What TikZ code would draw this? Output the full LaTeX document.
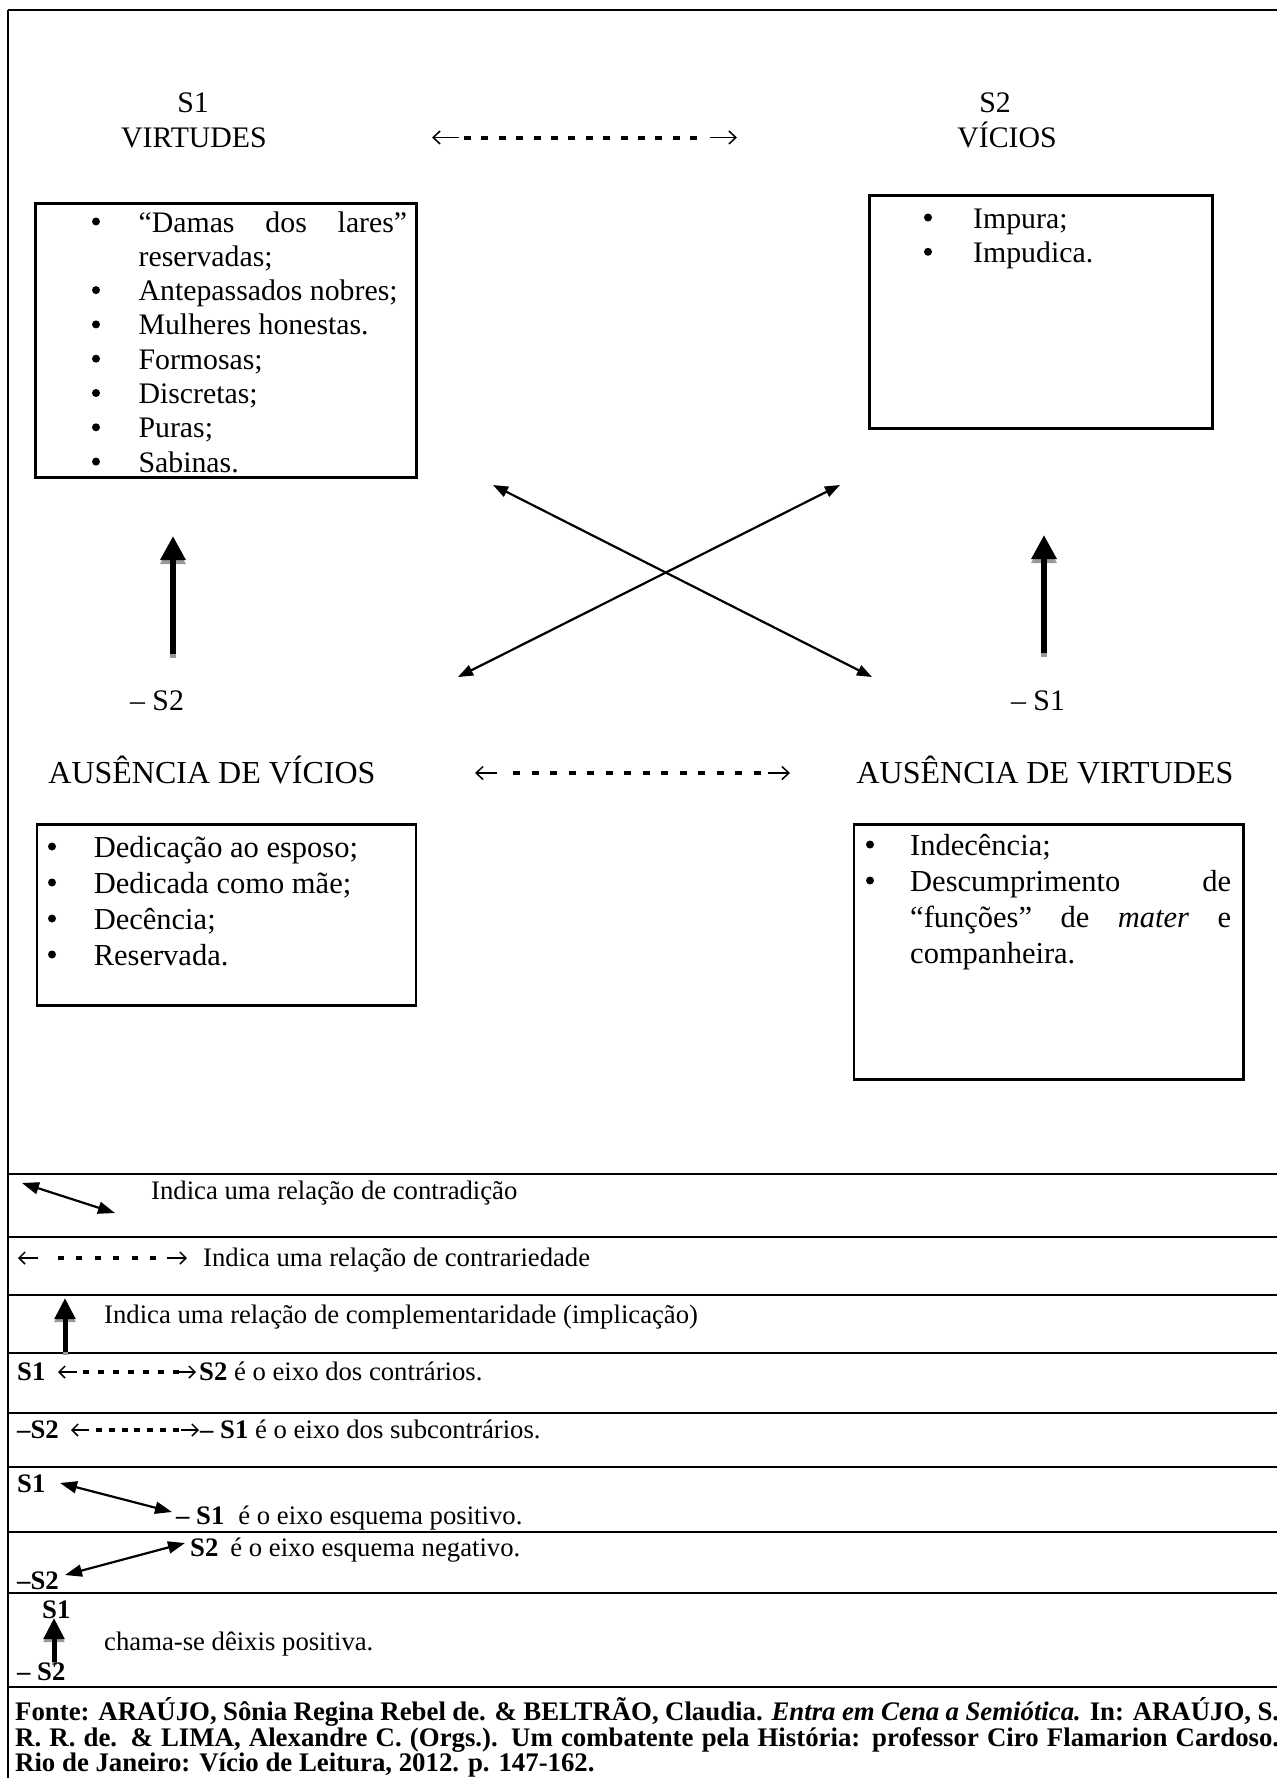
\documentclass[tikz,border=0pt]{standalone}
\usepackage{fontspec}
\setmainfont{Liberation Serif}
\usetikzlibrary{arrows.meta}

% type sizes (1pt of the picture = one unit of the grid)
\newcommand{\fmain}{\fontsize{29.8pt}{34.3pt}\selectfont}
\newcommand{\fbig}{\fontsize{32pt}{36pt}\selectfont}
\newcommand{\flower}{\fontsize{30.5pt}{36pt}\selectfont}
\newcommand{\fleg}{\fontsize{26.7pt}{30pt}\selectfont}
\newcommand{\fsrc}{\fontsize{26.8pt}{28pt}\selectfont}

% barb size of the contrariety arrows
\def\hl{7pt}\def\hw{13pt}
% contrariety arrow: thin barbed ends with a row of heavy dashes between them
% #1 left tip, #2 right tip, #3 stub length, #4 first dash offset,
% #5 number of dashes, #6 dash period, #7 dash length, #8 dash thickness
\newcommand{\contraryarrow}[8]{%
  \draw[barb, {Straight Barb[length=\hl,width=\hw]}-] (#1) -- ([xshift=#3]#1);
  \draw[barb, -{Straight Barb[length=\hl,width=\hw]}] ([xshift=-#3]#2) -- (#2);
  \foreach \i in {1,...,#5}
    \draw[line width=#8] ([xshift=#4+(\i-1)*#6]#1) -- ++(#7,0);
}

\begin{document}
\begin{tikzpicture}[x=1pt,y=-1pt,
  lbl/.style={inner sep=0pt, anchor=base, font=\fmain},
  ln/.style={inner sep=0pt, anchor=base west, font=\fmain},
  lnlow/.style={inner sep=0pt, anchor=base west, font=\flower},
  panel/.style={draw, line width=2.6pt, inner sep=0pt, anchor=north west},
  rowrule/.style={line width=2.8pt},
  barb/.style={line width=1.5pt},
  contra/.style={line width=2.2pt, {Triangle[length=15pt,width=11pt]}-{Triangle[length=15pt,width=11pt]}},
  legcontra/.style={line width=2.2pt, {Triangle[length=17pt,width=12pt]}-{Triangle[length=17pt,width=12pt]}},
  compl/.style={line width=6.5pt, -{Triangle[length=24pt,width=24pt]}},
  legcompl/.style={line width=5pt, -{Triangle[length=21pt,width=20pt]}},
  shade/.style={draw=black!40},
  leg/.style={inner sep=0pt, anchor=base west, font=\fleg},
  src/.style={inner sep=0pt, anchor=base west, font=\fsrc\bfseries},
]
\useasboundingbox (0,0) rectangle (1277,1778);
\clip (0,0) rectangle (1277,1778);
\fill[white] (0,0) rectangle (1277,1778);

% ---------- outer frame and table rules ----------
\draw[rowrule] (8,10) -- (1290,10);
\draw[rowrule] (8,10) -- (8,1790);
\foreach \yy in {1174,1237,1295,1353,1413,1467,1532,1593,1687}
  \draw[rowrule] (8,\yy) -- (1290,\yy);

% ---------- square of oppositions: headings ----------
\node[lbl] (s1) at (193,112) {S1};
\node[lbl] (virt) at (194,147) {VIRTUDES};
\node[lbl] (s2) at (995,112) {S2};
\node[lbl] (vic) at (1007,147) {VÍCIOS};
\coordinate (topL) at (432,137.5);
\coordinate (topR) at (737,137.5);
\contraryarrow{topL}{topR}{27pt}{32pt}{14}{17.4pt}{7}{4pt}

\node[lbl] (ns2) at (157,710) {– S2};
\node[lbl] (ns1) at (1038,710) {– S1};
\node[lbl, font=\fbig] (ausvic) at (212,783) {AUSÊNCIA DE VÍCIOS};
\node[lbl, font=\fbig] (ausvir) at (1045,783) {AUSÊNCIA DE VIRTUDES};
\coordinate (botL) at (475,773);
\coordinate (botR) at (790,773);
\contraryarrow{botL}{botR}{22pt}{38pt}{14}{18.5pt}{7}{4pt}

% ---------- virtues ----------
\node[panel, minimum width=381pt, minimum height=274pt] (bxvirt) at (34,202) {};
\foreach \yy in {232,300.6,334.9,369.2,403.5,437.8,472.1}
  \fill (96,\yy-10.5) circle (4);
\node[ln] (v1) at (138.4,232) {\makebox[268.6pt][s]{“Damas dos lares”}};
\node[ln] (v1b) at (138.4,266.3) {reservadas;};
\node[ln] (v2) at (138.4,300.6) {Antepassados nobres;};
\node[ln] (v3) at (138.4,334.9) {Mulheres honestas.};
\node[ln] (v4) at (138.4,369.2) {Formosas;};
\node[ln] (v5) at (138.4,403.5) {Discretas;};
\node[ln] (v6) at (138.4,437.8) {Puras;};
\node[ln] (v7) at (138.4,472.1) {Sabinas.};

% ---------- vices ----------
\node[panel, minimum width=343pt, minimum height=233pt] (bxvic) at (868,194) {};
\foreach \yy in {228,262.3}
  \fill (928,\yy-10.5) circle (4);
\node[ln] (c1) at (973,228) {Impura;};
\node[ln] (c2) at (973,262.3) {Impudica.};

% ---------- absence of vices ----------
\node[panel, minimum width=378.7pt, minimum height=181pt] (bxausvic) at (35.8,823) {};
\foreach \yy in {857,893,929,965}
  \fill (52,\yy-10.5) circle (4);
\node[lnlow] (a1) at (93.6,857) {Dedicação ao esposo;};
\node[lnlow] (a2) at (93.6,893) {Dedicada como mãe;};
\node[lnlow] (a3) at (93.6,929) {Decência;};
\node[lnlow] (a4) at (93.6,965) {Reservada.};

% ---------- absence of virtues ----------
\node[panel, minimum width=389.3pt, minimum height=255pt] (bxausvir) at (852.6,823) {};
\foreach \yy in {855,891}
  \fill (870,\yy-10.5) circle (4);
\node[lnlow] (b1) at (910,855) {Indecência;};
\node[lnlow] (b2) at (910,891) {\makebox[321pt][s]{Descumprimento de}};
\node[lnlow] (b3) at (910,927) {\makebox[321pt][s]{“funções” de \textit{mater} e}};
\node[lnlow] (b4) at (910,963) {companheira.};

% ---------- relations ----------
\coordinate (dTL) at (493,485);
\coordinate (dBR) at (872,677);
\coordinate (dTR) at (840,485);
\coordinate (dBL) at (458,677);
\draw[contra] (dTL) -- (dBR);
\draw[contra] (dTR) -- (dBL);

\coordinate (cLb) at (173,654);
\coordinate (cLt) at (173,536);
\coordinate (cRb) at (1044,653);
\coordinate (cRt) at (1044,535);
\draw[compl, shade] ([yshift=-4pt]cLb) -- ([yshift=-4pt]cLt);
\draw[compl] (cLb) -- (cLt);
\draw[compl, shade] ([yshift=-4pt]cRb) -- ([yshift=-4pt]cRt);
\draw[compl] (cRb) -- (cRt);

% ---------- key ----------
\def\hl{6pt}\def\hw{12pt}
% row 1
\coordinate (k1a) at (22,1183);
\coordinate (k1b) at (115,1213);
\draw[legcontra] (k1a) -- (k1b);
\node[leg] (k1) at (151,1199) {Indica uma relação de contradição};
% row 2
\coordinate (k2a) at (18,1258);
\coordinate (k2b) at (187,1258);
\contraryarrow{k2a}{k2b}{20pt}{40pt}{6}{18.4pt}{6}{3.4pt}
\node[leg] (k2) at (203,1266) {Indica uma relação de contrariedade};
% row 3
\coordinate (k3a) at (65,1352);
\coordinate (k3b) at (65,1298);
\draw[legcompl, shade] ([yshift=-3pt]k3a) -- ([yshift=-3pt]k3b);
\draw[legcompl] (k3a) -- (k3b);
\node[leg] (k3) at (104,1323) {Indica uma relação de complementaridade (implicação)};
% row 4
\node[leg] (k4s) at (17,1380) {\textbf{S1}};
\coordinate (k4a) at (58,1372);
\coordinate (k4b) at (196,1372);
\contraryarrow{k4a}{k4b}{19pt}{25pt}{7}{15pt}{6}{3.4pt}
\node[leg] (k4t) at (199,1380) {\textbf{S2} é o eixo dos contrários.};
% row 5
\node[leg] (k5s) at (17,1438) {\textbf{–S2}};
\coordinate (k5a) at (71,1430);
\coordinate (k5b) at (199,1430);
\contraryarrow{k5a}{k5b}{18pt}{25pt}{7}{12.8pt}{6}{3.4pt}
\node[leg] (k5t) at (200,1438) {\textbf{– S1} é o eixo dos subcontrários.};
% row 6
\node[leg] (k6s) at (17,1492) {\textbf{S1}};
\node[leg] (k6t) at (176,1524) {\textbf{– S1}\hspace{14pt}é o eixo esquema positivo.};
\coordinate (k6a) at (60,1483);
\coordinate (k6b) at (172,1512);
\draw[legcontra] (k6a) -- (k6b);
% row 7
\node[leg] (k7t) at (190,1556) {\textbf{S2}\hspace{12pt}é o eixo esquema negativo.};
\node[leg] (k7s) at (17,1589) {\textbf{–S2}};
\coordinate (k7a) at (65,1575);
\coordinate (k7b) at (185,1543);
\draw[legcontra] (k7a) -- (k7b);
% row 8
\node[leg] (k8s1) at (42,1618) {\textbf{S1}};
\coordinate (k8a) at (54,1662);
\coordinate (k8b) at (54,1618);
\draw[legcompl, shade] ([yshift=-3pt]k8a) -- ([yshift=-3pt]k8b);
\draw[legcompl] (k8a) -- (k8b);
\node[leg] (k8t) at (104,1650) {chama-se dêixis positiva.};
\node[leg] (k8s2) at (17,1680) {\textbf{– S2}};

% ---------- source ----------
\node[src] (f1) at (15,1720) {\makebox[1264pt][s]{Fonte: ARAÚJO, Sônia Regina Rebel de. \& BELTRÃO, Claudia. \textit{Entra em Cena a Semiótica.} In: ARAÚJO, S.}};
\node[src] (f2) at (15,1746) {\makebox[1264pt][s]{R. R. de. \& LIMA, Alexandre C. (Orgs.). Um combatente pela História: professor Ciro Flamarion Cardoso.}};
\node[src] (f3) at (15,1771) {Rio de Janeiro: Vício de Leitura, 2012. p. 147-162.};
\end{tikzpicture}
\end{document}
